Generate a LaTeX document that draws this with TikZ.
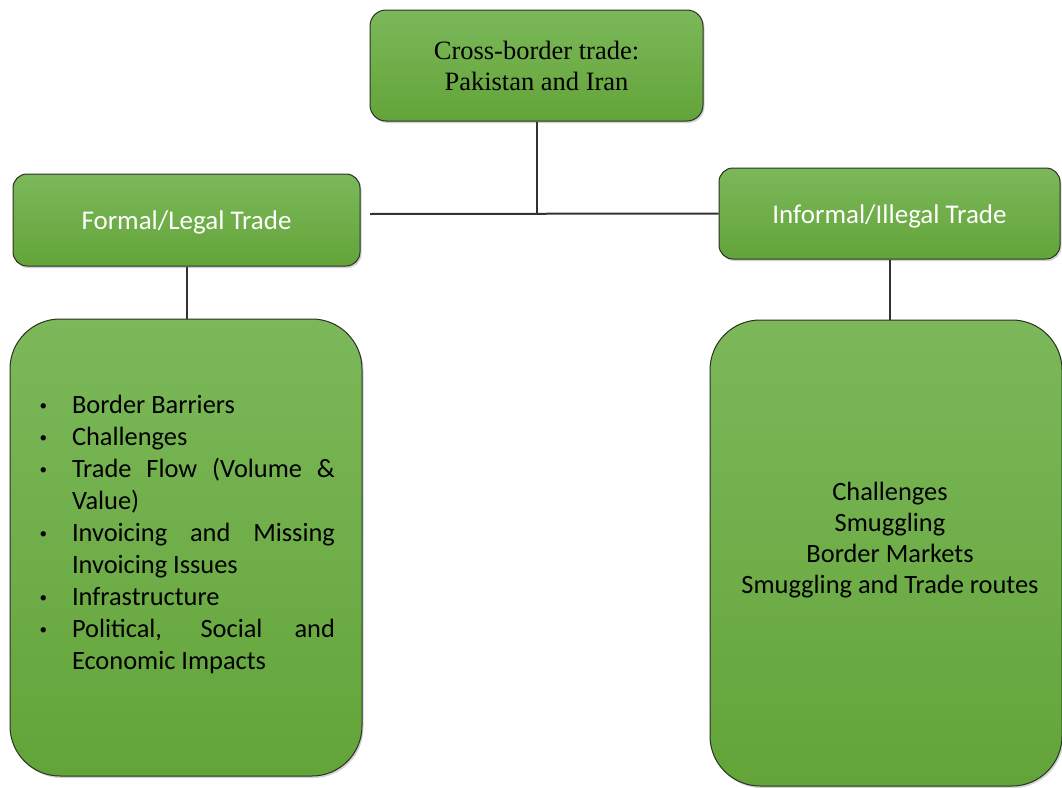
\documentclass[tikz,border=0pt]{standalone}
\usepackage{fontspec}
\setmainfont{Liberation Serif}
\newfontfamily\calfont{Carlito}
\usetikzlibrary{shadows}
\definecolor{gtop}{RGB}{124,184,90}
\definecolor{gbot}{RGB}{99,164,57}
\definecolor{edgecol}{RGB}{40,50,35}
\definecolor{conncol}{RGB}{50,50,50}
\newcommand\smallbul{\raisebox{3pt}{\fontsize{15}{15}\selectfont\textbullet}}
\tikzset{
  gbox/.style={draw=edgecol, line width=1pt, top color=gtop, bottom color=gbot,
    drop shadow={opacity=0.35, shadow xshift=1.5pt, shadow yshift=-2pt},
    inner sep=0pt, align=center},
  connline/.style={draw=conncol, line width=2pt},
  bodytext/.style={font=\calfont\fontsize{26.4}{32}\selectfont, text=black, inner sep=0pt},
}
\begin{document}
\begin{tikzpicture}[x=1pt,y=-1pt]
\useasboundingbox (0,0) rectangle (1062,787);
\fill[white] (0,0) rectangle (1062,787);

% boxes
\node[gbox, minimum width=333pt, minimum height=111pt, rounded corners=16pt,
  font=\fontsize{26.5}{31}\selectfont] (top) at (536.5,65.5)
  {Cross-border trade:\\Pakistan and Iran};
\node[gbox, minimum width=347pt, minimum height=92pt, rounded corners=14pt,
  text=white, font=\calfont\fontsize{27}{32}\selectfont] (formal) at (186.5,220)
  {\raisebox{-2.5pt}[\height][\depth]{Formal/Legal Trade}};
\node[gbox, minimum width=341pt, minimum height=91pt, rounded corners=14pt,
  text=white, font=\calfont\fontsize{27}{32}\selectfont] (inf) at (889.5,213.5)
  {\raisebox{-2.5pt}[\height][\depth]{Informal/Illegal Trade}};
\node[gbox, minimum width=352pt, minimum height=457pt, rounded corners=50pt] (lbox) at (186,547.5) {};
\node[gbox, minimum width=352pt, minimum height=466pt, rounded corners=50pt] (rbox) at (886,553) {};

% texts
\node[bodytext, text width=298pt, align=justify] (ltext) at (186,528) {%
\begin{list}{\smallbul}{\setlength\leftmargin{35pt}\setlength\labelwidth{8pt}%
 \setlength\labelsep{25pt}\setlength\itemsep{0pt}\setlength\parsep{0pt}%
 \setlength\topsep{0pt}\setlength\partopsep{0pt}}
\item Border Barriers
\item Challenges
\item Trade Flow (Volume \&\linebreak Value)
\item Invoicing and Missing\linebreak Invoicing Issues
\item Infrastructure
\item Political, Social and\linebreak Economic Impacts
\end{list}};
\node[bodytext, align=center, font=\calfont\fontsize{26.4}{31}\selectfont] (rtext) at (890,540)
  {Challenges\\Smuggling\\Border Markets\\Smuggling and Trade routes};

% connectors
\coordinate (hl) at (370,214);
\draw[connline] (top.south) -- (top.south |- inf.west);
\draw[connline] (hl) -- (inf.west);
\draw[connline] (formal.south) -- (formal.south |- lbox.north);
\draw[connline] (inf.south) -- (inf.south |- rbox.north);
\end{tikzpicture}
\end{document}
